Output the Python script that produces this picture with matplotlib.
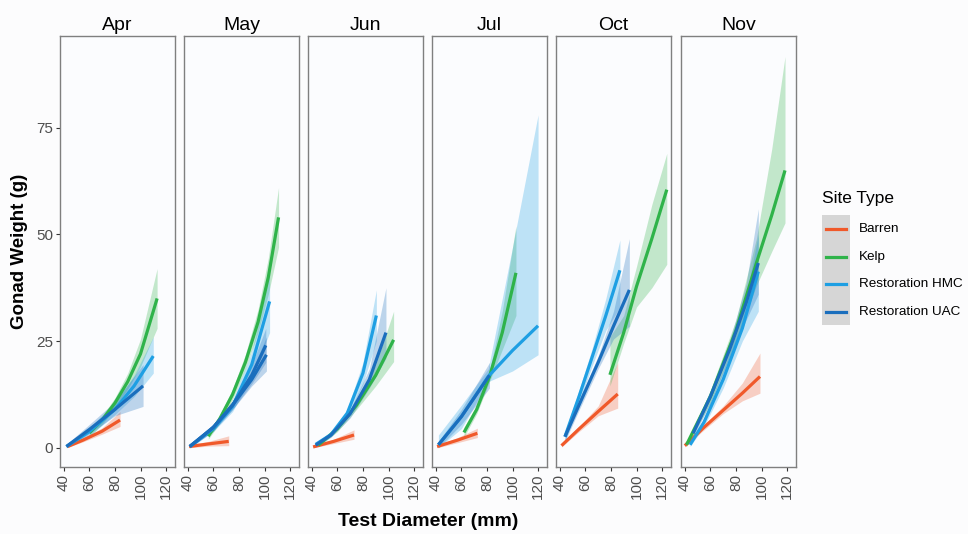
import numpy as np
import matplotlib
matplotlib.use('Agg')
import matplotlib.pyplot as plt
from matplotlib.lines import Line2D
from matplotlib.patches import Rectangle

plt.rcParams['font.family'] = ['Liberation Sans', 'DejaVu Sans']

months = ['Apr', 'May', 'Jun', 'Jul', 'Oct', 'Nov']
sites = ['Barren', 'Kelp', 'Restoration HMC', 'Restoration UAC']
colours = {'Barren': '#f0592a', 'Kelp': '#2fb34a',
           'Restoration HMC': '#1e9fe3', 'Restoration UAC': '#1a6ebd'}

# fitted gonad weight (g) at a few test diameters (mm)
barren_x = {'Apr': [43, 55, 70, 84], 'May': [41, 56, 72], 'Jun': [41, 57, 73],
            'Jul': [41, 57, 72.5], 'Oct': [41.3, 55, 70, 85.3], 'Nov': [40, 55, 70, 85, 98.8]}
barren_fit = {'Apr': [0.3, 1.8, 3.9, 6.5], 'May': [0.3, 0.9, 1.5], 'Jun': [0.2, 1.5, 3.0],
              'Jul': [0.3, 1.8, 3.4], 'Oct': [0.5, 4.4, 8.5, 12.6], 'Nov': [0.5, 4.8, 8.8, 12.8, 16.7]}
barren_lo = {'Apr': [0.1, 1.4, 3.2, 5.0], 'May': [0.0, 0.4, 0.5], 'Jun': [0.0, 1.0, 2.0],
             'Jul': [0.0, 1.2, 2.4], 'Oct': [0.2, 3.8, 7.5, 9.3], 'Nov': [0.2, 4.2, 8.0, 11.0, 12.8]}
barren_hi = {'Apr': [0.6, 2.2, 4.7, 8.5], 'May': [0.7, 1.5, 2.8], 'Jun': [0.6, 2.0, 4.2],
             'Jul': [0.6, 2.4, 4.6], 'Oct': [0.8, 5.0, 9.8, 20.0], 'Nov': [0.8, 5.4, 9.8, 15.2, 22.2]}

kelp_x = {'Apr': [60, 70, 80, 90, 100, 113], 'May': [56, 65, 75, 85, 95, 103, 111],
          'Jun': [45, 60, 75, 90, 104], 'Jul': [62, 72, 82, 92, 102.7],
          'Oct': [79.2, 90, 100, 112, 123.7], 'Nov': [41.3, 60, 80, 96, 108, 118.4]}
kelp_fit = {'Apr': [3.5, 6.5, 10.5, 15.5, 22, 35], 'May': [2.7, 6.8, 12.5, 20, 29.5, 40, 54],
            'Jun': [0.6, 4.5, 10, 17, 25.3], 'Jul': [3.6, 9, 16.7, 27, 41],
            'Oct': [17.1, 27, 37.8, 49, 60.5], 'Nov': [0.7, 12, 27.5, 43.3, 54.5, 65]}
kelp_lo = {'Apr': [2.5, 5.5, 9.3, 13.8, 19, 28], 'May': [2, 5.8, 11.3, 18.5, 27, 36, 47],
           'Jun': [0.2, 3.8, 9, 14.5, 20.2], 'Jul': [2.5, 8, 15.5, 23, 31],
           'Oct': [14.5, 24.5, 33, 37.5, 43], 'Nov': [0.3, 10.5, 25, 38, 46, 52.7]}
kelp_hi = {'Apr': [4.5, 7.5, 11.7, 17.5, 25.5, 42], 'May': [3.4, 7.8, 13.8, 21.8, 32.5, 44.5, 61],
           'Jun': [1, 5.2, 11, 19.5, 32], 'Jul': [4.8, 10, 18, 32, 52],
           'Oct': [26, 31, 42.5, 57, 69], 'Nov': [1.1, 13.5, 30, 49, 70, 91.7]}

hmc_x = {'Apr': [42, 60, 80, 95, 110], 'May': [41.5, 60, 75, 90, 104],
         'Jun': [43, 55, 67.7, 80, 90.5], 'Jul': [42, 60, 81, 100, 120],
         'Oct': [44, 55, 65, 76, 87], 'Nov': [44.1, 55, 70, 85, 97.5]}
hmc_fit = {'Apr': [0.3, 3.8, 9, 14.5, 21.5], 'May': [0.3, 4.5, 9.7, 19.5, 34.3],
           'Jun': [0.8, 3.1, 8.1, 17.5, 31], 'Jul': [0.7, 7.3, 16.7, 22.8, 28.6],
           'Oct': [2.6, 12, 21, 31, 41.6], 'Nov': [0.7, 6, 16, 28, 41.3]}
hmc_lo = {'Apr': [0, 2.8, 7.8, 12, 17.5], 'May': [0, 3.8, 8.5, 16.5, 27],
          'Jun': [0.4, 2.6, 7.2, 15, 25], 'Jul': [0, 4.5, 15.5, 18, 21.8],
          'Oct': [1.5, 10.5, 19, 27.5, 33], 'Nov': [0.3, 5, 14, 25, 32]}
hmc_hi = {'Apr': [0.7, 4.8, 10.5, 17, 26], 'May': [0.7, 5.2, 11, 22.5, 41],
          'Jun': [1.2, 3.6, 9, 20, 37], 'Jul': [3, 10, 18.5, 47, 78],
          'Oct': [3.7, 13.5, 23, 35, 48.7], 'Nov': [1.1, 7, 18, 31, 50]}

uac_x = {'Apr': [42, 60, 80, 102], 'May': [41.5, 60, 75, 90, 101],
         'Jun': [43, 55, 70, 85, 98], 'Jul': [42, 60, 82],
         'Oct': [44, 55, 70, 82, 94.4], 'Nov': [46.5, 60, 75, 88, 97.5]}
uac_fit = {'Apr': [0.3, 4.3, 9, 14.5], 'May': [0.3, 4.8, 10, 17, 24],
           'Jun': [0.6, 3.0, 8, 16, 27], 'Jul': [0.7, 7.3, 17],
           'Oct': [2.6, 10, 20, 28.5, 37], 'Nov': [3.4, 12, 23, 34, 43.3]}
uac_lo = {'Apr': [0, 3.3, 7.5, 9.7], 'May': [0, 4, 9, 15, 20],
          'Jun': [0.2, 2.5, 7, 14, 21], 'Jul': [0, 5.5, 14],
          'Oct': [1.5, 8.8, 18.5, 25.5, 28.5], 'Nov': [2.5, 10.5, 21, 30, 36]}
uac_hi = {'Apr': [0.8, 5.5, 10.8, 19.5], 'May': [0.7, 5.6, 11, 19.5, 28],
          'Jun': [1.0, 3.5, 9, 18.5, 37.5], 'Jul': [1.5, 9, 20],
          'Oct': [3.7, 11.2, 21.5, 32, 49], 'Nov': [4.3, 13.5, 25, 38.5, 56]}

# a second UAC curve shows up in May
uac2_may_x = [41.5, 60, 75, 90, 101.5]
uac2_may_fit = [0.3, 4.8, 10, 16, 21.8]
uac2_may_lo = [0, 4, 9, 14.5, 18]
uac2_may_hi = [0.7, 5.6, 11, 18, 26]

curves = {
    'Barren': (barren_x, barren_fit, barren_lo, barren_hi),
    'Kelp': (kelp_x, kelp_fit, kelp_lo, kelp_hi),
    'Restoration HMC': (hmc_x, hmc_fit, hmc_lo, hmc_hi),
    'Restoration UAC': (uac_x, uac_fit, uac_lo, uac_hi),
}

W, H = 968, 534
fig = plt.figure(figsize=(W / 100, H / 100), dpi=100, facecolor='#fcfcfd')

panel_left = [60, 184, 308, 432, 556, 681]
panel_w, top, bottom = 115, 36, 467

for i, month in enumerate(months):
    ax = fig.add_axes([panel_left[i] / W, 1 - bottom / H, panel_w / W, (bottom - top) / H])
    ax.set_facecolor('#fbfcfe')

    todo = []
    for site in sites:
        xs, fit, lo, hi = curves[site]
        todo.append((site, xs[month], fit[month], lo[month], hi[month]))
    if month == 'May':
        todo.append(('Restoration UAC', uac2_may_x, uac2_may_fit, uac2_may_lo, uac2_may_hi))

    for site, x, y, lo, hi in todo:
        ax.fill_between(x, lo, hi, color=colours[site], alpha=0.28, linewidth=0)
    for site, x, y, lo, hi in todo:
        ax.plot(x, y, color=colours[site], linewidth=2.3, solid_capstyle='butt',
                solid_joinstyle='round')

    ax.set_xlim(37, 127)
    ax.set_ylim(-4.5, 96.5)
    ax.set_xticks([40, 60, 80, 100, 120])
    ax.set_xticklabels(['40', '60', '80', '100', '120'], rotation=90, fontsize=11, color='#4d4d4d')
    ax.set_yticks([0, 25, 50, 75])
    if i == 0:
        ax.set_yticklabels(['0', '25', '50', '75'], fontsize=11, color='#4d4d4d')
    else:
        ax.tick_params(axis='y', left=False, labelleft=False)
    ax.tick_params(length=3, width=0.8, color='#333333', pad=2)
    for sp in ax.spines.values():
        sp.set_color('#7f7f7f')
        sp.set_linewidth(1.0)
    ax.set_title(month, fontsize=14, pad=4)

fig.text(428 / W, 1 - 521 / H, 'Test Diameter (mm)', ha='center', va='center',
         fontsize=14, fontweight='bold')
fig.text(20 / W, 1 - 251 / H, 'Gonad Weight (g)', ha='center', va='center',
         rotation=90, fontsize=13.5, fontweight='bold')

# legend drawn by hand so the key column gets its grey background
fig.text(822 / W, 1 - 199 / H, 'Site Type', ha='left', va='center', fontsize=12.5)
fig.patches.append(Rectangle((822 / W, 1 - 325 / H), 28 / W, 110 / H,
                             transform=fig.transFigure, facecolor='#d6d6d6', edgecolor='none'))
key_y = [229, 257, 284, 312]
for site, ky in zip(sites, key_y):
    fig.lines.append(Line2D([826 / W, 846 / W], [1 - ky / H, 1 - ky / H], transform=fig.transFigure,
                            color=colours[site], linewidth=2.3))
    fig.text(859 / W, 1 - ky / H, site, ha='left', va='center', fontsize=9.7)

fig.savefig('out.png', dpi=100, facecolor=fig.get_facecolor())
